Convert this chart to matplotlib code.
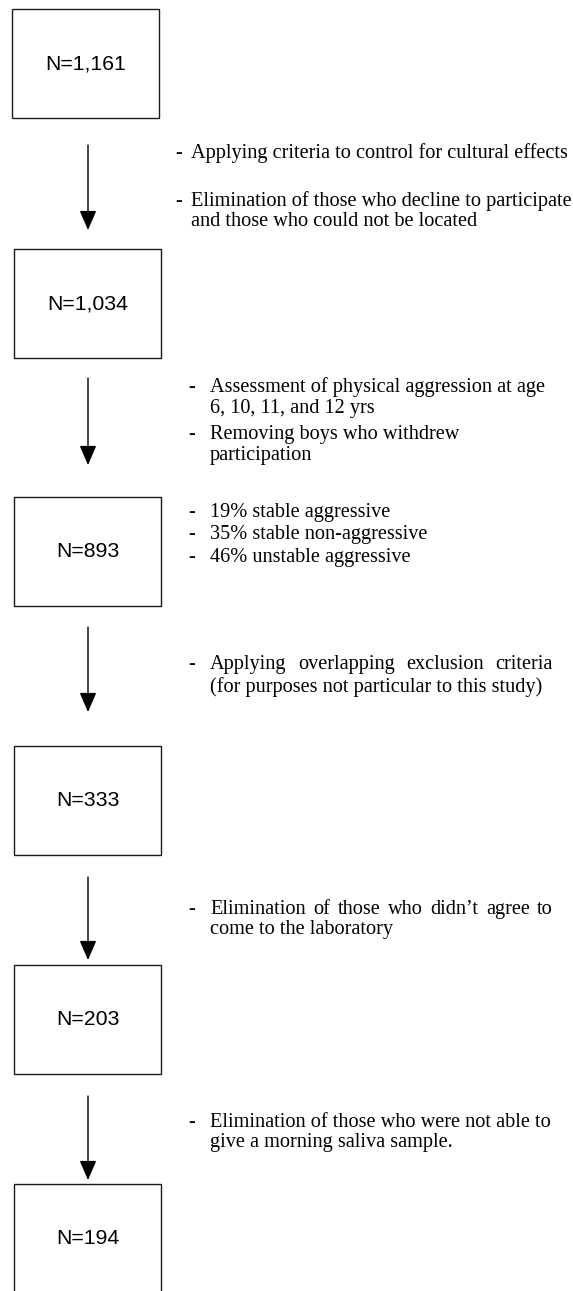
#Imports the relevant parts of the external modules
import matplotlib
matplotlib.use('Agg')
from matplotlib import pyplot as plt
from matplotlib.patches import Rectangle

#Sample size at each stage of the flow
counts = ['1,161', '1,034', '893', '333', '203', '194']

#Notes beside the flow, one list of (bullet, text) lines per group
notes = [
    [('-', 'Applying criteria to control for cultural effects'),
     ('-', 'Elimination of those who decline to participate'),
     ('', 'and those who could not be located')],
    [('-', 'Assessment of physical aggression at age'),
     ('', '6, 10, 11, and 12 yrs'),
     ('-', 'Removing boys who withdrew'),
     ('', 'participation')],
    [('-', '19% stable aggressive'),
     ('-', '35% stable non-aggressive'),
     ('-', '46% unstable aggressive')],
    [('-', 'Applying overlapping exclusion criteria'),
     ('', '(for purposes not particular to this study)')],
    [('-', 'Elimination of those who didn\u2019t agree to'),
     ('', 'come to the laboratory')],
    [('-', 'Elimination of those who were not able to'),
     ('', 'give a morning saliva sample.')],
]

#Layout in pixels (figure is drawn in pixel coordinates)
W, H = 573, 1291
box_x = [12, 14, 14, 14, 14, 14]
box_top = [9, 249, 497, 746, 965, 1184]
box_w = 147
box_h = 109
arrow_x = 88
arrow_start = [145, 378, 627, 877, 1096]
arrow_end = [230, 465, 712, 960, 1180]
note_y = [[151, 199, 219], [385, 406, 432, 453], [510, 532, 555],
          [662, 685], [907, 927], [1120, 1140]]
dash_x = [175, 188, 188, 188, 188, 188]
text_x = [191, 210, 210, 210, 210, 210]
#Lines that are justified out to a right edge (group, line) -> right x
justified = {(3, 0): 553, (4, 0): 553}

serif = 'Liberation Serif'
sans = 'Liberation Sans'
note_size = 14.6
box_size = 15.3
ink = '#1a1a1a'

fig = plt.figure(figsize=(W / 100, H / 100), dpi=100)
ax = fig.add_axes([0, 0, 1, 1])
ax.set_xlim(0, W)
ax.set_ylim(H, 0)
ax.axis('off')
renderer = fig.canvas.get_renderer()

#Boxes with the counts
for i in range(len(counts)):
    ax.add_patch(Rectangle((box_x[i], box_top[i]), box_w, box_h,
                           fill=False, edgecolor=ink, lw=1.0))
    ax.text(box_x[i] + box_w / 2, box_top[i] + box_h / 2, 'N=' + counts[i],
            ha='center', va='center', fontsize=box_size, family=sans, color='black')

#Arrows between boxes
for s, e in zip(arrow_start, arrow_end):
    ax.annotate('', xy=(arrow_x, e), xytext=(arrow_x, s),
                arrowprops=dict(arrowstyle='-|>,head_length=0.6,head_width=0.26',
                                mutation_scale=20, lw=1.0, color='black',
                                shrinkA=0, shrinkB=0))

#Notes
for g, lines in enumerate(notes):
    for j, (bullet, line) in enumerate(lines):
        y = note_y[g][j]
        if bullet:
            ax.text(dash_x[g], y, bullet, ha='left', va='center_baseline',
                    fontsize=note_size, family=serif, color='black')
        if (g, j) in justified:
            words = line.split()
            pieces = []
            total = 0
            for w in words:
                t = ax.text(0, y, w, ha='left', va='center_baseline',
                            fontsize=note_size, family=serif, color='black')
                width = t.get_window_extent(renderer).width
                pieces.append((t, width))
                total += width
            gap = (justified[(g, j)] - text_x[g] - total) / (len(words) - 1)
            x = text_x[g]
            for t, width in pieces:
                t.set_x(x)
                x += width + gap
        else:
            ax.text(text_x[g], y, line, ha='left', va='center_baseline',
                    fontsize=note_size, family=serif, color='black')

fig.savefig('out.png', dpi=100)
